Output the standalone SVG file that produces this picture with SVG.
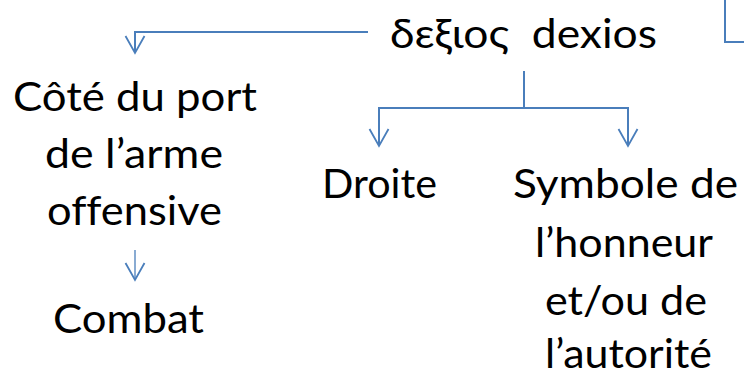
<svg xmlns="http://www.w3.org/2000/svg" width="744" height="375" viewBox="0 0 744 375">
<style>
text{font-family:Lato,"Liberation Sans","DejaVu Sans",sans-serif;font-size:40px;fill:#000;white-space:pre;font-variant-ligatures:none;font-feature-settings:"liga" 0}
.c{fill:none;stroke:#4A7EBB;stroke-width:2}
.t{stroke-width:1.3}
</style>
<defs>
<marker id="v" markerUnits="userSpaceOnUse" viewBox="-22 -12 24 24" refX="0" refY="0" markerWidth="24" markerHeight="24" orient="auto" overflow="visible">
<path d="M-17,-9.5 L0,0 L-17,9.5" fill="none" stroke="#4A7EBB" stroke-width="1.8"/>
</marker>
</defs>
<rect width="744" height="375" fill="#fff"/>
<g id="connectors">
<path class="c" d="M368,32 H135 V53" marker-end="url(#v)"/>
<path class="c" d="M725,0 V42 H744"/>
<path class="c" d="M524,71 V108"/>
<path class="c" d="M524,108 H379 V146" marker-end="url(#v)"/>
<path class="c" d="M524,108 H628 V146" marker-end="url(#v)"/>
<path class="c t" d="M135,250 V280" marker-end="url(#v)"/>
</g>
<g id="dexios"><text x="390" y="48" textLength="267" lengthAdjust="spacingAndGlyphs">δεξιος  dexios</text></g>
<g id="cote">
<text x="13" y="111" textLength="244" lengthAdjust="spacingAndGlyphs">Côté du port</text>
<text x="45" y="168" textLength="178" lengthAdjust="spacingAndGlyphs">de l’arme</text>
<text x="47" y="225" textLength="175" lengthAdjust="spacingAndGlyphs">offensive</text>
</g>
<g id="combat"><text x="53" y="333" textLength="151" lengthAdjust="spacingAndGlyphs">Combat</text></g>
<g id="droite"><text x="322" y="198" textLength="115" lengthAdjust="spacingAndGlyphs">Droite</text></g>
<g id="symbole">
<text x="513" y="198" textLength="225" lengthAdjust="spacingAndGlyphs">Symbole de</text>
<text x="535" y="257" textLength="178" lengthAdjust="spacingAndGlyphs">l’honneur</text>
<text x="545" y="315" textLength="162" lengthAdjust="spacingAndGlyphs">et/ou de</text>
<text x="545" y="368" textLength="167" lengthAdjust="spacingAndGlyphs">l’autorité</text>
</g>
</svg>
